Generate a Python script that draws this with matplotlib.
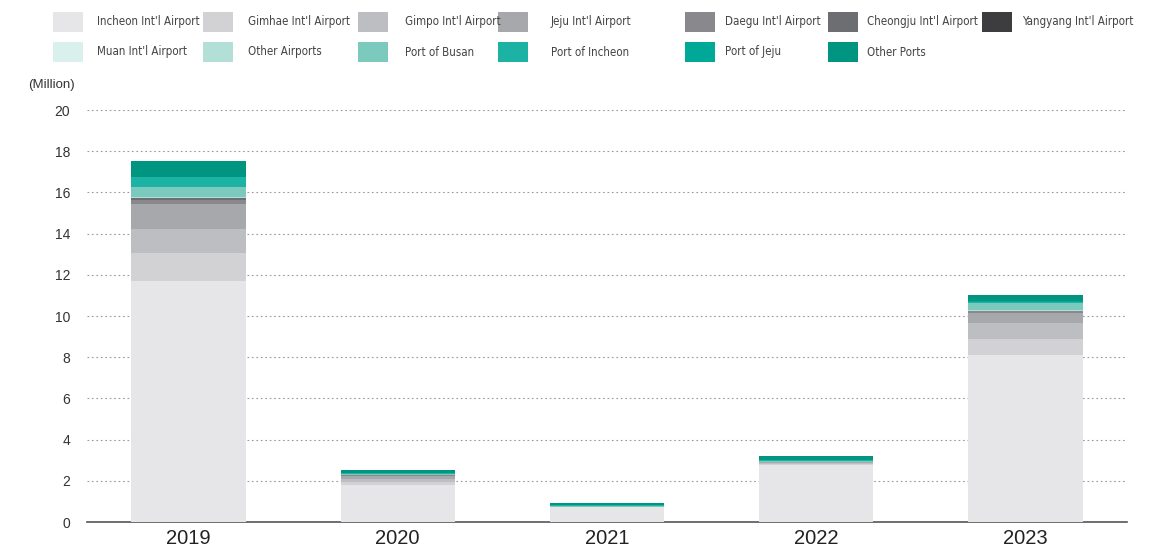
import matplotlib
matplotlib.use("Agg")
import matplotlib.pyplot as plt
from matplotlib import font_manager
from matplotlib.font_manager import FontProperties
from matplotlib.patches import Rectangle

years = ["2019", "2020", "2021", "2022", "2023"]
series_names = ["Incheon Int'l Airport", "Gimhae Int'l Airport", "Gimpo Int'l Airport",
                "Jeju Int'l Airport", "Daegu Int'l Airport", "Cheongju Int'l Airport",
                "Yangyang Int'l Airport", "Muan Int'l Airport", "Other Airports",
                "Port of Busan", "Port of Incheon", "Port of Jeju", "Other Ports"]
incheon_air = [11.70, 1.80, 0.72, 2.75, 8.11]
gimhae_air = [1.34, 0.16, 0.01, 0.05, 0.76]
gimpo_air = [1.18, 0.12, 0.01, 0.05, 0.80]
jeju_air = [1.22, 0.15, 0.01, 0.04, 0.49]
daegu_air = [0.19, 0.03, 0.00, 0.01, 0.07]
cheongju_air = [0.08, 0.01, 0.00, 0.00, 0.03]
yangyang_air = [0.01, 0.00, 0.00, 0.00, 0.00]
muan_air = [0.01, 0.00, 0.00, 0.00, 0.00]
other_air = [0.04, 0.01, 0.00, 0.00, 0.01]
busan_port = [0.47, 0.06, 0.03, 0.05, 0.35]
incheon_port = [0.52, 0.04, 0.03, 0.04, 0.08]
jeju_port = [0.01, 0.01, 0.00, 0.01, 0.05]
other_port = [0.77, 0.12, 0.13, 0.19, 0.25]
series_values = [incheon_air, gimhae_air, gimpo_air, jeju_air, daegu_air, cheongju_air,
                 yangyang_air, muan_air, other_air, busan_port, incheon_port, jeju_port, other_port]
colors = ["#e6e6e8", "#d2d2d4", "#bdbec1", "#a7a8ab", "#89898d", "#6d6e71", "#3d3d3f",
          "#daf0ec", "#b2e0d7", "#7ccabe", "#1cb3a4", "#00a898", "#009581"]
yticks = [0, 2, 4, 6, 8, 10, 12, 14, 16, 18, 20]

# find a condensed font file if one exists
cand = None
files = [f.fname for f in font_manager.fontManager.ttflist]
for key in ["LiberationSansNarrow-Regular", "DejaVuSansCondensed.ttf", "RobotoCondensed-Regular",
            "OpenSans_Condensed-Regular", "OpenSansCondensed"]:
    for fn in files:
        if key in fn:
            cand = fn
            break
    if cand:
        break
if cand is None:
    import glob
    for pat in ["/usr/share/fonts/**/*Narrow-Regular*.ttf", "/usr/share/fonts/**/DejaVuSansCondensed.ttf",
                "/usr/share/fonts/**/*Condensed-Regular*.ttf"]:
        g = glob.glob(pat, recursive=True)
        if g:
            cand = g[0]
            break
if cand:
    legend_fp = FontProperties(fname=cand, size=9.2)
    if "DejaVu" in cand:
        legend_fp = FontProperties(fname=cand, size=8.3)
else:
    legend_fp = FontProperties(family="Liberation Sans", size=8.1)

plt.rcParams['font.family'] = ['Liberation Sans', 'DejaVu Sans']

W, H = 1155, 555
fig = plt.figure(figsize=(W / 100, H / 100), dpi=100)
ax = fig.add_axes([87 / W, 1 - 522 / H, (1127 - 87) / W, (522 - 110) / H])

x = list(range(len(years)))
bottom = [0.0] * len(years)
for name, vals, c in zip(series_names, series_values, colors):
    ax.bar(x, vals, width=0.545, bottom=bottom, color=c, label=name, linewidth=0, zorder=3)
    bottom = [b + v for b, v in zip(bottom, vals)]

ax.set_xlim(-0.485, 4.485)
ax.set_ylim(0, 20)
ax.set_yticks(yticks)
ax.set_yticklabels([str(t) for t in yticks], fontsize=10, color="#333333")
ax.set_xticks(x)
ax.set_xticklabels(years, fontsize=14.5, color="#222222")
ax.tick_params(axis="both", length=0)
ax.tick_params(axis="y", pad=12)
ax.tick_params(axis="x", pad=5)
for s in ["top", "right", "left"]:
    ax.spines[s].set_visible(False)
ax.spines["bottom"].set_color("#555555")
ax.spines["bottom"].set_linewidth(1.2)
ax.yaxis.grid(True, linestyle=(0, (1.5, 2.5)), color="#999999", linewidth=0.8, zorder=0)
ax.set_axisbelow(True)
for gl, t in zip(ax.yaxis.get_gridlines(), yticks):
    if t == 0:
        gl.set_visible(False)

fig.text(28 / W, 1 - 85 / H, "(Million)", fontsize=9.5, color="#333333", va="center", ha="left")

# legend
col_sw = [53, 203, 358, 498, 685, 828, 982]
col_tx = [97, 248, 405, 551, 725, 867, 1022]
row_y = [22, 52]
for i, (name, c) in enumerate(zip(series_names, colors)):
    r, k = divmod(i, 7)
    yc = row_y[r]
    fig.patches.append(Rectangle((col_sw[k] / W, 1 - (yc + 10) / H), 30 / W, 20 / H,
                                 transform=fig.transFigure, facecolor=c, edgecolor="none"))
    fig.text(col_tx[k] / W, 1 - yc / H, name, fontproperties=legend_fp,
             color="#444444", va="center", ha="left")

fig.savefig("out.png", dpi=100)
